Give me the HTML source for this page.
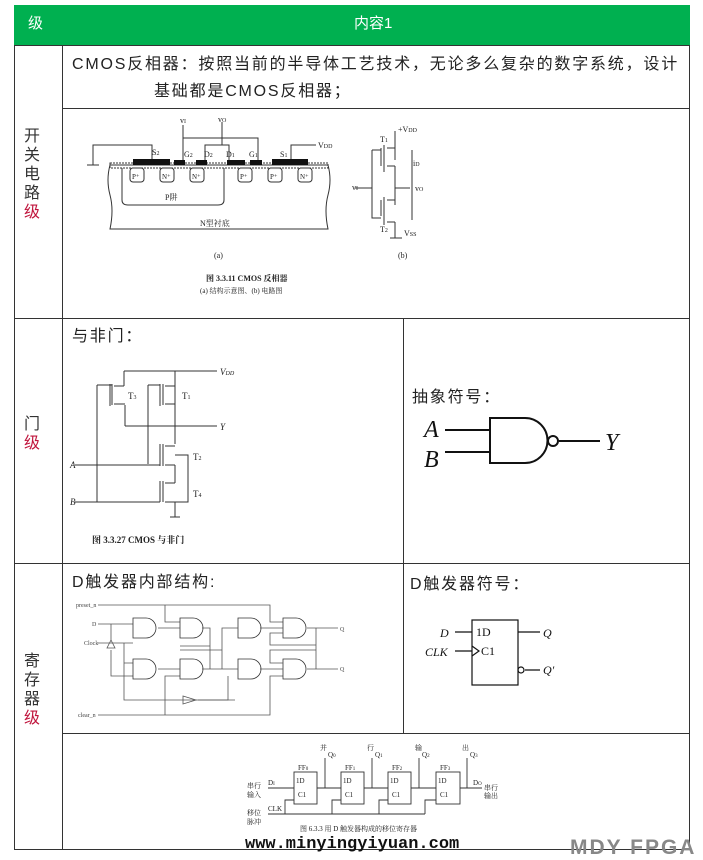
<!DOCTYPE html>
<html><head><meta charset="utf-8">
<style>
body{margin:0;width:703px;height:860px;background:#fff;position:relative;overflow:hidden;font-family:"Liberation Sans","Noto Sans CJK SC",sans-serif;color:#222}
.t{position:absolute;white-space:nowrap;font-size:16px;letter-spacing:1.8px}
.v{position:absolute;font-size:16px;line-height:19px;text-align:center;width:20px;color:#333}
.r{color:#c0143c}
svg{position:absolute;left:0;top:0}
</style></head><body>
<div style="position:absolute;left:14px;top:5px;width:676px;height:40px;background:#00b050"></div>
<div class="t" style="left:28px;top:12px;color:#fff;font-size:15px;letter-spacing:0">级</div>
<div class="t" style="left:354px;top:12px;color:#fff;font-size:15px;letter-spacing:0">内容1</div>

<div class="t" style="left:72px;top:50px">CMOS反相器：按照当前的半导体工艺技术，无论多么复杂的数字系统，设计</div>
<div class="t" style="left:154px;top:77px">基础都是CMOS反相器；</div>
<div class="t" style="left:72px;top:322px">与非门：</div>
<div class="t" style="left:412px;top:383px">抽象符号：</div>
<div class="t" style="left:72px;top:568px">D触发器内部结构:</div>
<div class="t" style="left:410px;top:570px">D触发器符号：</div>

<div class="v" style="left:22px;top:127px">开<br>关<br>电<br>路<br><span class="r">级</span></div>
<div class="v" style="left:22px;top:415px">门<br><span class="r">级</span></div>
<div class="v" style="left:22px;top:652px">寄<br>存<br>器<br><span class="r">级</span></div>

<svg width="703" height="860" viewBox="0 0 703 860" font-family="Liberation Serif,Noto Serif CJK SC,serif" fill="none" stroke="#222" stroke-width="1">
<g stroke="#333">
<rect x="14.5" y="45.5" width="675" height="804"/>
<line x1="62.5" y1="45" x2="62.5" y2="850"/>
<line x1="62" y1="108.5" x2="690" y2="108.5"/>
<line x1="14" y1="318.5" x2="690" y2="318.5"/>
<line x1="14" y1="563.5" x2="690" y2="563.5"/>
<line x1="62" y1="733.5" x2="690" y2="733.5"/>
<line x1="403.5" y1="318" x2="403.5" y2="733"/>
</g>
<g stroke="#333">
<path d="M110 165 L328 165 M110 165 Q106 180 110 195 Q114 210 110 229 L328 229 Q324 210 328 195 Q332 180 328 165"/>
<rect x="110" y="163" width="218" height="5" stroke-dasharray="2,1"/>
<path d="M122 168 L122 200 Q122 205 128 205 L218 205 Q224 205 224 200 L224 168"/>
<g fill="#111" stroke="none">
<rect x="133" y="159" width="37" height="6"/><rect x="174" y="160" width="11" height="5"/><rect x="196" y="160" width="11" height="5"/><rect x="227" y="160" width="18" height="5"/><rect x="250" y="160" width="12" height="5"/><rect x="272" y="159" width="36" height="6"/>
</g>
<g><rect x="130" y="168" width="14" height="14" rx="3"/><rect x="160" y="168" width="14" height="14" rx="3"/><rect x="190" y="168" width="14" height="14" rx="3"/><rect x="238" y="168" width="14" height="14" rx="3"/><rect x="268" y="168" width="14" height="14" rx="3"/><rect x="298" y="168" width="14" height="14" rx="3"/></g>
<path d="M152 159 V145 H93 V165 M87 165 H99"/>
<path d="M183 160 V125 M183 138 H258 V160 M205 160 V145 H229 V160 M222 145 V122"/>
<path d="M291 159 V145 H316"/>
<path d="M395 131 V160 M381 148 V166 M384 145 V172 M387 148 h8 M387 166 h8 M395 166 V185 M395 185 V205 M387 200 h8 M387 222 h8 M384 197 V225 M381 200 V216 M395 222 V238 M390 238 h12 M372 150 V218 H381 M372 150 H381 M355 188 H372 M395 188 H410 M412 150 V220"/>
</g>
<g fill="#222" stroke="none" font-size="8">
<text x="180" y="123">v<tspan font-size="6">I</tspan></text><text x="218" y="122">v<tspan font-size="6">O</tspan></text>
<text x="152" y="155">S<tspan font-size="6">2</tspan></text><text x="184" y="157">G<tspan font-size="6">2</tspan></text><text x="204" y="157">D<tspan font-size="6">2</tspan></text><text x="226" y="157">D<tspan font-size="6">1</tspan></text><text x="249" y="157">G<tspan font-size="6">1</tspan></text><text x="280" y="157">S<tspan font-size="6">1</tspan></text><text x="318" y="148">V<tspan font-size="6">DD</tspan></text>
<text x="132" y="179" font-size="7">P⁺</text><text x="162" y="179" font-size="7">N⁺</text><text x="192" y="179" font-size="7">N⁺</text><text x="240" y="179" font-size="7">P⁺</text><text x="270" y="179" font-size="7">P⁺</text><text x="300" y="179" font-size="7">N⁺</text>
<text x="165" y="200">P阱</text><text x="200" y="226">N型衬底</text><text x="214" y="258">(a)</text><text x="398" y="258">(b)</text>
<text x="398" y="132">+V<tspan font-size="6">DD</tspan></text><text x="380" y="142">T<tspan font-size="6">1</tspan></text><text x="380" y="232">T<tspan font-size="6">2</tspan></text><text x="413" y="166">i<tspan font-size="6">D</tspan></text><text x="352" y="190">v<tspan font-size="6">I</tspan></text><text x="415" y="191">v<tspan font-size="6">O</tspan></text><text x="404" y="236">V<tspan font-size="6">SS</tspan></text>
<text x="206" y="281" font-weight="bold">图 3.3.11  CMOS 反相器</text>
<text x="200" y="293" font-size="7">(a) 结构示意图、(b) 电路图</text>
</g>
<g stroke="#333">
<path d="M124 371 H217 M175 371 V426 M124 371 V386 M125 426 H217 M125 426 V405 M175 426 V444"/>
<path d="M97 385 H112 M97 385 V502 M110 384 V406 M112 384 V405 M114 386 h10 M114 404 h11 M160 384 V406 M163 384 V405 M165 386 h10 M165 404 h10 M148 385 V464 M148 385 H160"/>
<path d="M160 444 V466 M163 444 V466 M165 446 h10 M165 465 h10 M175 465 V483 M75 465 H160 M160 481 V502 M163 481 V502 M165 483 h10 M165 502 h10 M75 502 H160 M175 502 V517 M170 517 h10 M175 455 H188 V502 H175"/>
</g>
<g fill="#222" stroke="none" font-size="9">
<text x="220" y="375" font-style="italic">V<tspan font-size="6">DD</tspan></text><text x="128" y="399">T<tspan font-size="6">3</tspan></text><text x="182" y="399">T<tspan font-size="6">1</tspan></text><text x="220" y="430" font-style="italic">Y</text><text x="193" y="460">T<tspan font-size="6">2</tspan></text><text x="193" y="497">T<tspan font-size="6">4</tspan></text><text x="70" y="468" font-style="italic">A</text><text x="70" y="505" font-style="italic">B</text>
<text x="92" y="543" font-weight="bold">图 3.3.27   CMOS 与非门</text>
</g>
<g stroke="#111" stroke-width="2">
<path d="M445 430 H490 M445 452 H490 M490 418 H525 A22 22 0 0 1 525 463 H490 Z M559 441 H600"/>
<circle cx="553" cy="441" r="5"/>
</g>
<g fill="#111" stroke="none" font-style="italic" font-size="24"><text x="424" y="437">A</text><text x="424" y="467">B</text><text x="605" y="450">Y</text></g>
<g stroke="#555" stroke-width="0.8">
<path d="M98 605 H270 V622 H283 M165 605 V622 H180 M98 715 H270 V676 H283 M165 715 V676 H180"/>
<path d="M98 624 H133 M111 624 V640 M98 643 H124 V700 H235 M124 643 H133 M111 640 L107 648 L115 648 Z M111 650 V676 H133 M124 663 H133"/>
<g fill="#fff" stroke="#333">
<path d="M133 618 H146 A10 10 0 0 1 146 638 H133 Z"/><path d="M180 618 H193 A10 10 0 0 1 193 638 H180 Z"/><path d="M238 618 H251 A10 10 0 0 1 251 638 H238 Z"/><path d="M283 618 H296 A10 10 0 0 1 296 638 H283 Z"/>
<path d="M133 659 H146 A10 10 0 0 1 146 679 H133 Z"/><path d="M180 659 H193 A10 10 0 0 1 193 679 H180 Z"/><path d="M238 659 H251 A10 10 0 0 1 251 679 H238 Z"/><path d="M283 659 H296 A10 10 0 0 1 296 679 H283 Z"/>
</g>
<path d="M158 628 H180 M158 669 H180 M202 628 H210 V669 H238 M202 669 H222 V628 H238 M260 628 H283 M260 669 H283 M307 628 H338 M307 669 H338 M316 628 V650 H270 V663 H283 M316 669 V645 H270 V633 H283 M210 646 H180 M222 650 H180"/>
<path d="M183 696 L196 700 L183 704 Z M198 700 H228 V676"/>
</g>
<g fill="#444" stroke="none" font-size="6"><text x="76" y="607">preset_n</text><text x="92" y="626">D</text><text x="84" y="645">Clock</text><text x="78" y="717">clear_n</text><text x="340" y="631">Q</text><text x="340" y="671">Q</text></g>
<g stroke="#111" stroke-width="1.2"><rect x="472" y="620" width="46" height="65"/><path d="M455 632 H472 M455 651 H472 M472 646 L479 651 L472 656 M518 632 H540 M525 670 H540"/><circle cx="521" cy="670" r="3"/></g>
<g fill="#111" stroke="none" font-size="12" font-style="italic"><text x="440" y="637">D</text><text x="425" y="656">CLK</text><text x="543" y="637">Q</text><text x="543" y="674">Q′</text><text x="476" y="636" font-style="normal">1D</text><text x="481" y="655" font-style="normal">C1</text></g>
<g stroke="#333" stroke-width="0.9">
<rect x="294" y="772" width="23" height="32"/><rect x="341" y="772" width="23" height="32"/><rect x="388" y="772" width="23" height="32"/><rect x="436" y="772" width="24" height="32"/>
<path d="M268 788 H294 M317 788 H341 M364 788 H388 M411 788 H436 M460 788 H482 M325 788 V758 M372 788 V758 M419 788 V758 M467 788 V758"/>
<path d="M268 814 H425 M285 814 V800 H294 M332 814 V800 H341 M379 814 V800 H388 M425 814 V800 H436"/>
</g>
<g fill="#222" stroke="none" font-size="7"><text x="320" y="750">并</text><text x="367" y="750">行</text><text x="415" y="750">输</text><text x="462" y="750">出</text>
<text x="328" y="757">Q<tspan font-size="5">0</tspan></text><text x="375" y="757">Q<tspan font-size="5">1</tspan></text><text x="422" y="757">Q<tspan font-size="5">2</tspan></text><text x="470" y="757">Q<tspan font-size="5">3</tspan></text>
<text x="298" y="770">FF<tspan font-size="5">0</tspan></text><text x="345" y="770">FF<tspan font-size="5">1</tspan></text><text x="392" y="770">FF<tspan font-size="5">2</tspan></text><text x="440" y="770">FF<tspan font-size="5">3</tspan></text>
<text x="296" y="783">1D</text><text x="343" y="783">1D</text><text x="390" y="783">1D</text><text x="438" y="783">1D</text>
<text x="298" y="797">C1</text><text x="345" y="797">C1</text><text x="392" y="797">C1</text><text x="440" y="797">C1</text>
<text x="247" y="788">串行</text><text x="247" y="797">输入</text><text x="268" y="785">D<tspan font-size="5">I</tspan></text><text x="473" y="785">D<tspan font-size="5">O</tspan></text><text x="484" y="790">串行</text><text x="484" y="798">输出</text>
<text x="247" y="815">移位</text><text x="247" y="824">脉冲</text><text x="268" y="811">CLK</text>
<text x="300" y="831">图 6.3.3  用 D 触发器构成的移位寄存器</text></g>
</svg>
<div class="t" style="left:245px;top:835px;font-family:'Liberation Mono',monospace;font-weight:bold;font-size:17px;color:#111;letter-spacing:0">www.minyingyiyuan.com</div>
<div class="t" style="left:570px;top:836px;font-family:'Liberation Sans',sans-serif;font-weight:bold;font-size:21px;color:#888;letter-spacing:2px">MDY FPGA</div>
</body></html>
